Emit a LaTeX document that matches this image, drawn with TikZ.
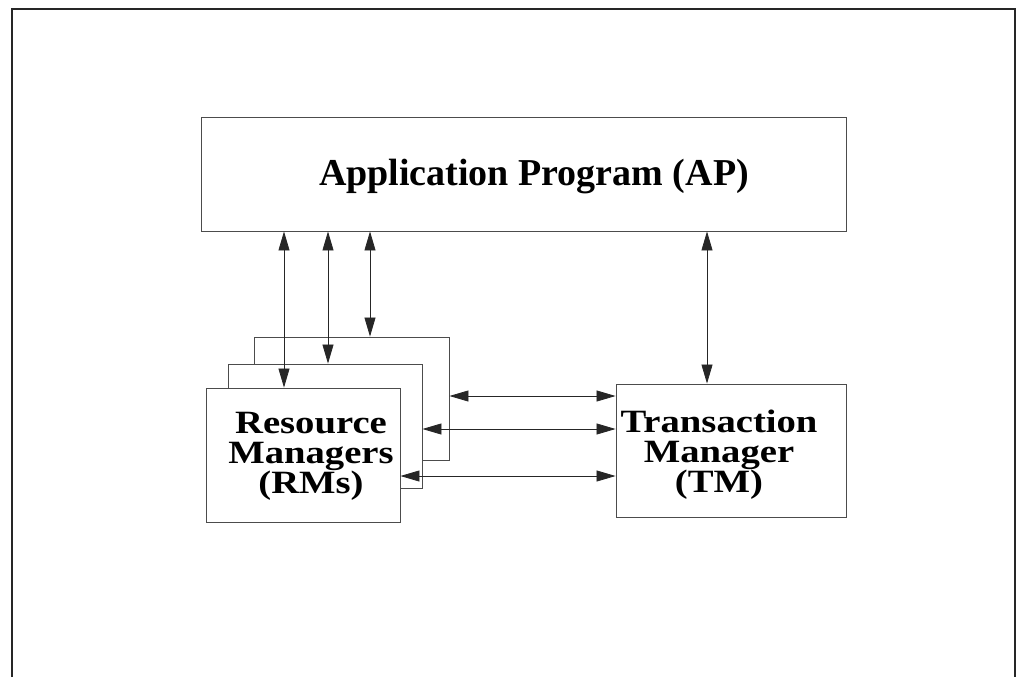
\documentclass[tikz,border=0pt]{standalone}
\usepackage{fontspec}
\setmainfont{Liberation Serif}
% a wider cut of the same face for the lower boxes
\newfontfamily\widefont[FakeStretch=1.19]{Liberation Serif}
\usetikzlibrary{arrows.meta}

\tikzset{
  box/.style={draw=black!70, line width=0.9pt, fill=white, inner sep=0pt},
  label text/.style={font={\bfseries\fontsize{38}{29.7}\selectfont\lineskiplimit=-100pt},
                     align=center, inner sep=0pt},
  stack text/.style={label text,
                     font={\widefont\bfseries\fontsize{32.5}{29.7}\selectfont\lineskiplimit=-100pt}},
  link/.style={draw=black!85, line width=0.8pt,
               {Triangle[length=19pt,width=11pt]}-{Triangle[length=19pt,width=11pt]}},
  frame/.style={draw=black!85, line width=1.6pt}
}

\begin{document}
\begin{tikzpicture}[x=1pt, y=-1pt]
  \useasboundingbox (0,0) rectangle (1016,677);

  % outer frame (open at the bottom)
  \draw[frame] (12,677) -- (12,9) -- (1015,9) -- (1015,677);

  % application program
  \node[box, minimum width=645pt, minimum height=114pt] (ap) at (523.5,174) {};
  \node[label text, anchor=base] (aptext) at (534,185) {Application Program (AP)};

  % stacked resource managers, back to front
  \node[box, minimum width=195pt, minimum height=123pt] (rmback)  at (351.5,398.5) {};
  \node[box, minimum width=194pt, minimum height=124pt] (rmmid)   at (325,426) {};
  \node[box, minimum width=194pt, minimum height=134pt] (rmfront) at (303,455) {};
  % base anchor sits on the last line
  \node[stack text, anchor=base] (rmtext) at (311,493) {Resource\\Managers\\(RMs)};

  % transaction manager
  \node[box, minimum width=230pt, minimum height=133pt] (tm) at (731,450.5) {};
  \node[stack text, anchor=base] (tmtext) at (719,492) {Transaction\\Manager\\(TM)};

  % connector positions
  \coordinate (v1) at (284,0);
  \coordinate (v2) at (328,0);
  \coordinate (v3) at (370,0);
  \coordinate (v4) at (707,0);
  \coordinate (h1) at (0,396);
  \coordinate (h2) at (0,429);
  \coordinate (h3) at (0,476);

  % AP to RMs and TM
  \draw[link] (ap.south -| v1) -- (rmfront.north -| v1);
  \draw[link] (ap.south -| v2) -- (rmmid.north -| v2);
  \draw[link] (ap.south -| v3) -- (rmback.north -| v3);
  \draw[link] (ap.south -| v4) -- (tm.north -| v4);

  % RMs to TM
  \draw[link] (rmback.east |- h1)  -- (tm.west |- h1);
  \draw[link] (rmmid.east |- h2)   -- (tm.west |- h2);
  \draw[link] (rmfront.east |- h3) -- (tm.west |- h3);
\end{tikzpicture}
\end{document}
